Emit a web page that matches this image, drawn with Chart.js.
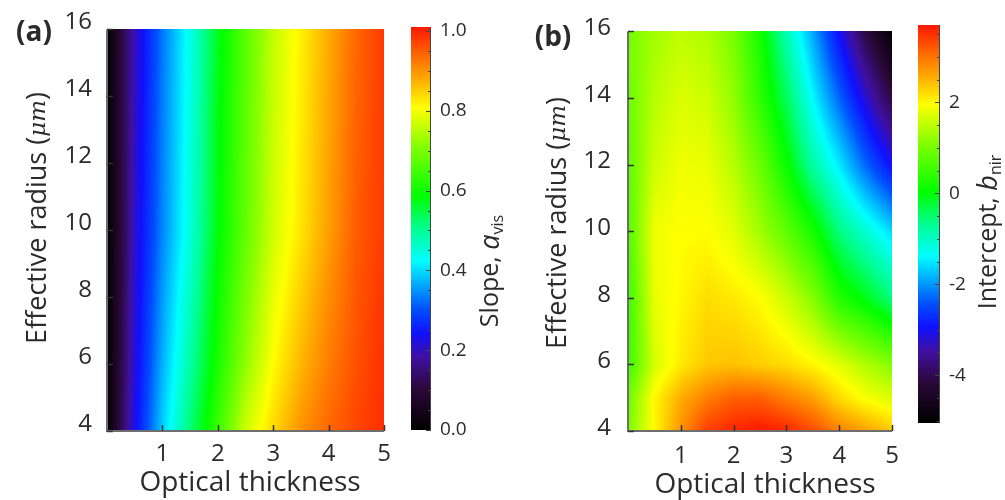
<!DOCTYPE html>
<html>
<head>
<meta charset="utf-8">
<script src="https://cdn.jsdelivr.net/npm/chart.js@4.4.0/dist/chart.umd.min.js"></script>
<style>
  body { margin: 0; background: #fff; }
  #wrap { position: relative; width: 1005px; height: 500px; overflow: hidden; }
  canvas { position: absolute; top: 0; }
</style>
</head>
<body>
<div id="wrap">
  <canvas id="plotA" width="400" height="500" style="left:0px"></canvas>
  <canvas id="barA" width="105" height="500" style="left:400px"></canvas>
  <canvas id="plotB" width="405" height="500" style="left:505px"></canvas>
  <canvas id="barB" width="100" height="500" style="left:905px"></canvas>
</div>
<script>
// ---- data ----
// (a) slope a_vis on a thickness x radius grid
const thicknessA = [0, 0.25, 0.5, 1, 1.5, 2, 2.5, 3, 3.5, 4, 4.5, 5];
const radiusA = [4, 6, 10, 16];
const slopeRows = [
  [0, 0.12, 0.23, 0.39, 0.52, 0.64, 0.77, 0.84, 0.90, 0.94, 0.97, 0.99], // r = 4
  [0, 0.11, 0.22, 0.37, 0.49, 0.61, 0.72, 0.81, 0.87, 0.92, 0.96, 0.99], // r = 6
  [0, 0.10, 0.21, 0.34, 0.45, 0.58, 0.68, 0.77, 0.83, 0.89, 0.95, 0.98], // r = 10
  [0, 0.10, 0.20, 0.33, 0.44, 0.57, 0.67, 0.76, 0.82, 0.88, 0.94, 0.98]  // r = 16
];

// (b) intercept b_nir
const thicknessB = [0, 0.5, 1, 1.5, 2, 2.5, 3, 3.5, 4, 4.5, 5];
const radiusB = [4, 5, 6, 8, 10, 12, 14, 16];
const interceptRows = [
  [1.0, 2.0, 2.75, 3.4, 3.6, 3.7, 3.6, 3.3, 2.9, 2.65, 2.35],     // r = 4
  [0.9, 2.0, 2.55, 2.9, 3.15, 3.15, 2.9, 2.65, 2.2, 1.9, 1.7],    // r = 5
  [0.5, 1.65, 2.1, 2.35, 2.4, 2.3, 2.2, 2.0, 1.75, 1.4, 1.1],     // r = 6
  [0.5, 1.8, 2.0, 2.2, 2.1, 1.95, 1.6, 1.1, 0.3, -0.1, -0.6],     // r = 8
  [0.7, 1.85, 1.95, 1.95, 1.75, 1.3, 0.8, 0.2, -0.6, -1.1, -1.6], // r = 10
  [0.8, 1.6, 1.85, 1.8, 1.45, 0.9, 0.1, -0.8, -1.5, -2.3, -3.0],  // r = 12
  [0.9, 1.45, 1.7, 1.6, 1.2, 0.4, -0.4, -1.4, -2.3, -3.2, -4.1],  // r = 14
  [1.0, 1.3, 1.5, 1.4, 1.0, 0.2, -0.9, -1.9, -3.0, -4.1, -5.0]    // r = 16
];

// tick labels
const thicknessTicks = [1, 2, 3, 4, 5];
const radiusTicks = [4, 6, 8, 10, 12, 14, 16];
const slopeTicks = [0, 0.2, 0.4, 0.6, 0.8, 1.0];
const interceptTicks = [-4, -2, 0, 2];

// colour map: black - purple - blue - cyan - green - yellow - orange - red
const cmapStops = [
  [0.00, 0, 0, 0],
  [0.10, 42, 8, 56],
  [0.18, 64, 16, 160],
  [0.24, 16, 16, 255],
  [0.30, 0, 80, 255],
  [0.42, 0, 255, 255],
  [0.50, 0, 255, 144],
  [0.58, 0, 255, 0],
  [0.70, 128, 255, 0],
  [0.80, 255, 255, 0],
  [0.88, 255, 160, 0],
  [1.00, 255, 24, 0]
];

function cmap(t) {
  t = Math.max(0, Math.min(1, t));
  for (let i = 1; i < cmapStops.length; i++) {
    const b = cmapStops[i];
    if (t <= b[0]) {
      const a = cmapStops[i - 1];
      const f = (t - a[0]) / (b[0] - a[0]);
      return [a[1] + f * (b[1] - a[1]), a[2] + f * (b[2] - a[2]), a[3] + f * (b[3] - a[3])];
    }
  }
  return cmapStops[cmapStops.length - 1].slice(1);
}

function locate(arr, v) {
  if (v <= arr[0]) return [0, 0];
  if (v >= arr[arr.length - 1]) return [arr.length - 2, 1];
  let i = 0;
  while (arr[i + 1] < v) i++;
  return [i, (v - arr[i]) / (arr[i + 1] - arr[i])];
}

function gridValue(xs, ys, rows, x, y) {
  const [i, fx] = locate(xs, x);
  const [j, fy] = locate(ys, y);
  const r0 = rows[j], r1 = rows[j + 1];
  const a = r0[i] + fx * (r0[i + 1] - r0[i]);
  const b = r1[i] + fx * (r1[i + 1] - r1[i]);
  return a + fy * (b - a);
}

const FONT = "'Open Sans', 'DejaVu Sans', sans-serif";
const TEXT = '#2b2b2b';

// paints the grid into the chart area, pixel by pixel through the scales
const heatmap = {
  id: 'heatmap',
  beforeDatasetsDraw(chart, args, o) {
    if (!o.rows) return;
    const { ctx, chartArea: a, scales: { x, y } } = chart;
    const w = Math.round(a.right - a.left), h = Math.round(a.bottom - a.top);
    const off = document.createElement('canvas');
    off.width = w; off.height = h;
    const octx = off.getContext('2d');
    const img = octx.createImageData(w, h);
    for (let j = 0; j < h; j++) {
      const yv = y.getValueForPixel(a.top + j + 0.5);
      for (let i = 0; i < w; i++) {
        const xv = x.getValueForPixel(a.left + i + 0.5);
        const v = gridValue(o.xs, o.ys, o.rows, xv, yv);
        const c = cmap((v - o.min) / (o.max - o.min));
        const k = (j * w + i) * 4;
        img.data[k] = c[0]; img.data[k + 1] = c[1]; img.data[k + 2] = c[2]; img.data[k + 3] = 255;
      }
    }
    octx.putImageData(img, 0, 0);
    ctx.drawImage(off, a.left, a.top);
  }
};

// draws text parts along a line; rotated = reading bottom to top
function drawParts(ctx, cx, cy, parts, rotated) {
  ctx.save();
  ctx.translate(cx, cy);
  if (rotated) ctx.rotate(-Math.PI / 2);
  ctx.textBaseline = 'middle';
  ctx.textAlign = 'left';
  ctx.fillStyle = TEXT;
  let total = 0;
  parts.forEach(p => { ctx.font = p.font; p.w = ctx.measureText(p.text).width; total += p.w; });
  let xx = -total / 2;
  parts.forEach(p => {
    ctx.font = p.font;
    ctx.fillText(p.text, xx, p.dy || 0);
    xx += p.w;
  });
  ctx.restore();
}

// axis lines, inward ticks, titles, panel letter
const frame = {
  id: 'frame',
  afterDraw(chart, args, o) {
    const { ctx, chartArea: a, scales: { x, y } } = chart;
    ctx.save();
    ctx.strokeStyle = '#6e6e6e';
    ctx.lineWidth = 2;
    ctx.beginPath();
    ctx.moveTo(a.left, a.top); ctx.lineTo(a.left, a.bottom); ctx.lineTo(a.right, a.bottom);
    ctx.stroke();
    ctx.strokeStyle = '#333';
    ctx.lineWidth = 1.5;
    ctx.beginPath();
    o.xTicks.forEach(v => {
      const px = Math.round(x.getPixelForValue(v)) + 0.5;
      ctx.moveTo(px, a.bottom); ctx.lineTo(px, a.bottom - 6);
    });
    o.yTicks.forEach(v => {
      const py = Math.round(y.getPixelForValue(v)) + 0.5;
      ctx.moveTo(a.left, py); ctx.lineTo(a.left + 6, py);
    });
    ctx.stroke();
    ctx.restore();

    drawParts(ctx, o.xTitlePos[0], o.xTitlePos[1], [{ text: 'Optical thickness', font: '28px ' + FONT }], false);
    drawParts(ctx, o.yTitlePos[0], o.yTitlePos[1], [
      { text: 'Effective radius (', font: '27px ' + FONT },
      { text: 'μm', font: "italic 23px 'DejaVu Serif', serif", dy: 1 },
      { text: ')', font: '27px ' + FONT }
    ], true);
    drawParts(ctx, o.letterPos[0], o.letterPos[1], [{ text: o.letter, font: 'bold 28px ' + FONT }], false);
  }
};

// colour bar: gradient through the y scale, ticks on its right edge, title
const colorbar = {
  id: 'colorbar',
  beforeDatasetsDraw(chart, args, o) {
    const { ctx, chartArea: a, scales: { y } } = chart;
    for (let py = Math.floor(a.top); py < a.bottom; py++) {
      const v = y.getValueForPixel(py + 0.5);
      const c = cmap((v - o.min) / (o.max - o.min));
      ctx.fillStyle = 'rgb(' + c.map(Math.round).join(',') + ')';
      ctx.fillRect(a.left, py, a.right - a.left, 1);
    }
    ctx.save();
    ctx.strokeStyle = '#444';
    ctx.lineWidth = 1;
    ctx.beginPath();
    ctx.moveTo(a.right - 0.5, a.top); ctx.lineTo(a.right - 0.5, a.bottom);
    for (let v = o.minorStart; v <= o.max + 1e-9; v += o.minorStep) {
      const py = Math.round(y.getPixelForValue(v)) + 0.5;
      const major = o.ticks.some(t => Math.abs(t - v) < 1e-6);
      ctx.moveTo(a.right, py); ctx.lineTo(a.right - (major ? 5 : 3), py);
    }
    ctx.stroke();
    ctx.restore();
    drawParts(ctx, o.titlePos[0], o.titlePos[1], o.title, true);
  }
};

function mainChart(id, pad, yWidth, xs, ys, rows, min, max, xPad, yPad, yShift, letter, letterPos, xTitlePos, yTitlePos) {
  return new Chart(document.getElementById(id), {
    type: 'scatter',
    data: { datasets: [] },
    options: {
      responsive: false,
      animation: false,
      layout: { padding: pad },
      plugins: {
        legend: { display: false },
        tooltip: { enabled: false },
        heatmap: { xs: xs, ys: ys, rows: rows, min: min, max: max },
        frame: { xTicks: thicknessTicks, yTicks: radiusTicks, letter: letter, letterPos: letterPos, xTitlePos: xTitlePos, yTitlePos: yTitlePos }
      },
      scales: {
        x: {
          type: 'linear', min: 0, max: 5,
          afterBuildTicks: s => { s.ticks = thicknessTicks.map(v => ({ value: v })); },
          afterFit: s => { s.height = 69; },
          grid: { display: false, drawTicks: false },
          border: { display: false },
          ticks: { padding: xPad, color: TEXT, font: { family: FONT, size: 24 }, maxRotation: 0 }
        },
        y: {
          type: 'linear', min: 4, max: 16,
          afterBuildTicks: s => { s.ticks = radiusTicks.map(v => ({ value: v })); },
          afterFit: s => { s.width = yWidth; },
          grid: { display: false, drawTicks: false },
          border: { display: false },
          ticks: { padding: yPad, labelOffset: yShift, color: TEXT, font: { family: FONT, size: 24 } }
        }
      }
    },
    plugins: [heatmap, frame]
  });
}

function barChart(id, pad, yWidth, min, max, ticks, fmt, minorStart, minorStep, title, titlePos) {
  return new Chart(document.getElementById(id), {
    type: 'scatter',
    data: { datasets: [] },
    options: {
      responsive: false,
      animation: false,
      layout: { padding: pad },
      plugins: {
        legend: { display: false },
        tooltip: { enabled: false },
        colorbar: { min: min, max: max, ticks: ticks, minorStart: minorStart, minorStep: minorStep, title: title, titlePos: titlePos }
      },
      scales: {
        x: { type: 'linear', display: false, min: 0, max: 1 },
        y: {
          type: 'linear', position: 'right', min: min, max: max,
          afterBuildTicks: s => { s.ticks = ticks.map(v => ({ value: v })); },
          afterFit: s => { s.width = yWidth; },
          grid: { display: false, drawTicks: false },
          border: { display: false },
          ticks: { padding: 9, color: TEXT, font: { family: FONT, size: 19 }, callback: fmt }
        }
      }
    },
    plugins: [colorbar]
  });
}

mainChart('plotA', { left: 0, top: 26, right: 9, bottom: 0 }, 107,
  thicknessA, radiusA, slopeRows, 0, 1.01, 9, 15, -7,
  '(a)', [34, 33], [250, 483], [38, 218]);

barChart('barA', { left: 11, top: 27, right: 0, bottom: 70 }, 74,
  0, 1.01, slopeTicks, v => v.toFixed(1), 0, 0.05,
  [
    { text: 'Slope, ', font: '25px ' + FONT },
    { text: 'a', font: 'italic 27px ' + FONT },
    { text: 'vis', font: '16px ' + FONT, dy: 7 }
  ], [91, 271]);

mainChart('plotB', { left: 0, top: 25, right: 10, bottom: 0 }, 123,
  thicknessB, radiusB, interceptRows, -5.05, 3.7, 11, 17, -3,
  '(b)', [48, 38], [260, 485], [53, 223]);

barChart('barB', { left: 13, top: 25, right: 0, bottom: 77 }, 65,
  -5.05, 3.7, interceptTicks, v => String(v), -5, 0.5,
  [
    { text: 'Intercept, ', font: '25px ' + FONT },
    { text: 'b', font: 'italic 27px ' + FONT },
    { text: 'nir', font: '16px ' + FONT, dy: 7 }
  ], [84, 232]);
</script>
</body>
</html>
